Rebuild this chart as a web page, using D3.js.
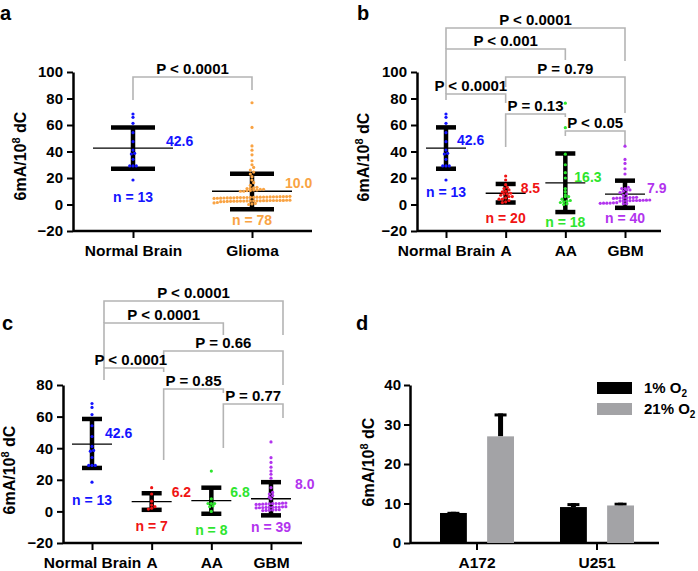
<!DOCTYPE html>
<html>
<head>
<meta charset="utf-8">
<script src="https://cdn.jsdelivr.net/npm/d3@7"></script>
<style>
  body { margin: 0; background: #fff; }
  svg text { font-family: "Liberation Sans", Arial, Helvetica, sans-serif; font-weight: bold; fill: #000; }
</style>
</head>
<body>
<svg id="fig" width="698" height="571"></svg>
<script>
// ---------------- data ----------------
var groupsA = ["Normal Brain", "Glioma"];
var groupsBC = ["Normal Brain", "A", "AA", "GBM"];

var normalBrain = [68.3, 65.8, 61.3, 54.2, 47.4, 41.1, 38.6, 38.1, 34.1, 29.1, 29.1, 29.1, 18.5];
var glioma = [76.8, 58.2, 44.2, 41, 37.5, 33, 30, 28, 26, 24.5, 23, 21, 18.5, 16.5, 14.5,
  13, 12.5, 12, 12, 11.5, 11.5, 11, 11, 10.5, 10.5, 10, 10,
  6.2, 6, 6, 5.9, 5.8, 5.8, 5.7, 5.6, 5.6, 5.5, 5.5, 5.4, 5.4, 5.3, 5.3, 5.2, 5.2, 5.1, 5, 5, 4.9, 4.8, 4.7, 4.6,
  3.3, 3.2, 3.1, 3.1, 3, 3, 3, 2.9, 2.9, 2.8, 2.8, 2.8, 2.7, 2.7, 2.6, 2.6, 2.5, 2.5, 2.4, 2.3, 2.2, 2.1,
  1.5, 1.2, 0.8, 0.4, 0];

var bAstro = [21.5, 18.5, 15, 13, 12, 11, 10, 9.5, 8.5, 8, 8, 7, 6, 6, 5, 4, 4, 3, 2, 1.5];
var bAnaplastic = [76.5, 58, 38, 30, 24, 20, 12, 9.7, 7.2, 6, 6, 4, 3, 2.5, 2, 1.5, 0.5, 0];
var bGbm = [44, 34, 31, 27, 23, 13, 12, 12, 11, 11, 10, 9, 8, 7,
  5.4, 5.3, 5.2, 5, 5, 4.9, 4.8, 4.6,
  3.4, 3.3, 3.2, 3.1, 3, 3, 2.9, 2.8, 2.7, 2.6,
  1.4, 1.3, 1.1, 1, 1, 0.9, 0.7, 0.6];

var cAstro = [15, 11, 6.5, 4, 3, 2, 1.5];
var cAnaplastic = [25.5, 8, 5, 5, 5, 3.5, 3, 0];
var cGbm = [44, 34, 31, 28, 25.5, 23.5, 21, 15, 12, 11, 10, 9, 8,
  5.3, 5.2, 5, 5, 4.9, 4.8, 4.7, 4.6, 4.5, 4.4,
  3, 2.9, 2.8, 2.7, 2.6, 2.6, 2.5, 2.4, 2.3, 2.2,
  1.1, 1, 0.9, 0.8, 0.6, 0.5];

var meansA = [42.6, 10.0], loA = [27, -3.5], hiA = [58.2, 23.3], nA = [13, 78];
var meansB = [42.6, 8.5, 16.3, 7.9], loB = [27, 1.5, -5.7, -2.5], hiB = [58.2, 15.5, 38.5, 18], nB = [13, 20, 18, 40];
var meansC = [42.6, 6.2, 6.8, 8.0], loC = [27.5, 1, -1.5, -2.5], hiC = [58.5, 11.5, 15, 18.5], nC = [13, 7, 8, 39];

var compsA = [[0, 1, "P < 0.0001"]];
var compsB = [[0, 3, "P < 0.0001"], [0, 2, "P < 0.001"], [1, 3, "P = 0.79"], [0, 1, "P < 0.0001"], [1, 2, "P = 0.13"], [2, 3, "P < 0.05"]];
var compsC = [[0, 3, "P < 0.0001"], [0, 2, "P < 0.0001"], [1, 3, "P = 0.66"], [0, 1, "P < 0.0001"], [1, 2, "P = 0.85"], [2, 3, "P = 0.77"]];

var yTicksAB = [-20, 0, 20, 40, 60, 80, 100];
var yTicksC = [-20, 0, 20, 40, 60, 80];
var yTicksD = [0, 10, 20, 30, 40];

var cellLines = ["A172", "U251"];
var oxygen = ["1%", "21%"];
var lowO2 = [7.6, 9.1], lowO2Err = [7.9, 10.1];
var highO2 = [27, 9.5], highO2Err = [32.8, 10.2];

// ---------------- styles / layout ----------------
var colA = ["#1414ff", "#f9a343"];
var colBC = ["#1414ff", "#f01414", "#2ee52e", "#b234ee"];
var bracketGray = "#b4b4b4";
var barCols = ["#000000", "#a3a3a6"];

var svg = d3.select("#fig");

function yTitle(x, y) {
  var t = svg.append("text")
    .attr("transform", "translate(" + x + "," + y + ") rotate(-90)")
    .attr("text-anchor", "middle")
    .style("font-size", "16px");
  t.append("tspan").text("6mA/10");
  t.append("tspan").attr("dy", -6).style("font-size", "11px").text("8");
  t.append("tspan").attr("dy", 6).text(" dC");
}

function panelLetter(txt, x, y) {
  svg.append("text").attr("x", x).attr("y", y).style("font-size", "20px").text(txt);
}

function yAxis(y, x0, ticks, pad) {
  var g = svg.append("g").attr("transform", "translate(" + x0 + ",0)")
    .call(d3.axisLeft(y).tickValues(ticks).tickSize(6).tickSizeOuter(0).tickPadding(pad));
  g.select(".domain").attr("stroke-width", 2.5);
  g.selectAll(".tick line").attr("stroke-width", 2);
  g.selectAll(".tick text").style("font-size", "15px");
}

function xAxis(x, y0, from, to, offset) {
  var g = svg.append("g").attr("transform", "translate(" + (offset || 0) + "," + y0 + ")")
    .call(d3.axisBottom(x).tickSize(7).tickPadding(7));
  g.select(".domain").remove();
  g.selectAll(".tick line").attr("stroke-width", 2);
  g.selectAll(".tick text").style("font-size", "15.5px");
  svg.append("line").attr("x1", from).attr("x2", to).attr("y1", y0).attr("y2", y0)
    .attr("stroke", "#000").attr("stroke-width", 2.5);
}

// GraphPad-like scatter: points sharing a pixel row spread sideways
function swarm(vals, y, cx, rowH, sp) {
  var pts = vals.map(function (v) { return { v: v, py: y(v) }; });
  var rows = d3.group(pts, function (d) { return Math.round(d.py / rowH); });
  rows.forEach(function (r) {
    r.sort(function (a, b) { return a.v - b.v; });
    r.forEach(function (d, i) { d.px = cx + (i - (r.length - 1) / 2) * sp; });
  });
  return pts;
}

function scatterPanel(p) {
  var g = svg.append("g");
  p.cats.forEach(function (c, i) {
    var cx = p.x(c);
    // error bar (mean +/- SD)
    g.append("line").attr("x1", cx).attr("x2", cx).attr("y1", p.y(p.lo[i])).attr("y2", p.y(p.hi[i]))
      .attr("stroke", "#000").attr("stroke-width", 4.5);
    [p.lo[i], p.hi[i]].forEach(function (v) {
      g.append("line").attr("x1", cx - p.capHalf).attr("x2", cx + p.capHalf)
        .attr("y1", p.y(v)).attr("y2", p.y(v)).attr("stroke", "#000").attr("stroke-width", 4.5);
    });
    g.append("line").attr("x1", cx - p.meanHalf).attr("x2", cx + p.meanHalf)
      .attr("y1", p.y(p.means[i])).attr("y2", p.y(p.means[i])).attr("stroke", "#000").attr("stroke-width", 1.3);
    g.selectAll(null).data(swarm(p.series[i], p.y, cx, 3.6, 3.3)).enter().append("circle")
      .attr("cx", function (d) { return d.px; })
      .attr("cy", function (d) { return d.py; })
      .attr("r", 1.6)
      .attr("fill", p.colors[i]);
    g.append("text").attr("x", cx + p.meanLab[i][0]).attr("y", p.y(p.means[i]) + p.meanLab[i][1])
      .style("font-size", "14px").style("fill", p.colors[i]).text(p.means[i].toFixed(1));
    g.append("text").attr("x", cx).attr("y", p.nLabY[i]).attr("text-anchor", "middle")
      .style("font-size", "14px").style("fill", p.colors[i]).text("n = " + p.n[i]);
  });
}

function brackets(comps, x, cats, lay, shift) {
  comps.forEach(function (c, i) {
    var x1 = x(cats[c[0]]) + shift, x2 = x(cats[c[1]]) + shift, L = lay[i];
    svg.append("path")
      .attr("d", "M" + x1 + "," + L[1] + "V" + L[0] + "H" + x2 + "V" + L[2])
      .attr("fill", "none").attr("stroke", bracketGray).attr("stroke-width", 1.6);
    svg.append("text").attr("x", (x1 + x2) / 2 + L[3]).attr("y", L[0] - 3)
      .attr("text-anchor", "middle").style("font-size", "15px").text(c[2]);
  });
}

// ---------------- panel a ----------------
var xA = d3.scalePoint().domain(groupsA).range([133, 252]);
var yA = d3.scaleLinear().domain([-20, 100]).range([231, 72]);
panelLetter("a", 0, 20);
yAxis(yA, 73, yTicksAB, 4);
xAxis(xA, 231, 73, 312);
yTitle(26, 156);
brackets(compsA, xA, groupsA, [[77, 100, 90, 0]], 0);
scatterPanel({
  cats: groupsA, series: [normalBrain, glioma], means: meansA, lo: loA, hi: hiA, n: nA,
  colors: colA, x: xA, y: yA, capHalf: 22, meanHalf: 40,
  meanLab: [[33, -2], [33, -3]], nLabY: [202, 225]
});

// ---------------- panel b ----------------
var xB = d3.scalePoint().domain(groupsBC).range([446, 625]);
var yB = d3.scaleLinear().domain([-20, 100]).range([231, 72]);
panelLetter("b", 357, 20);
yAxis(yB, 417, yTicksAB, 4);
xAxis(xB, 231, 417, 661);
yTitle(369, 157);
brackets(compsB, xB, groupsBC, [
  [28, 49, 61, 0], [49, 94, 60, 0], [77, 87, 113, 0],
  [94, 100, 103, -5], [114, 147, 117, 0], [131, 136, 147, 0]
], 0);
scatterPanel({
  cats: groupsBC, series: [normalBrain, bAstro, bAnaplastic, bGbm], means: meansB, lo: loB, hi: hiB, n: nB,
  colors: colBC, x: xB, y: yB, capHalf: 10, meanHalf: 20,
  meanLab: [[11, -3], [15, 0], [9, -1], [22, -1]], nLabY: [197, 223, 227, 223]
});

// ---------------- panel c ----------------
var xC = d3.scalePoint().domain(groupsBC).range([92, 271]);
var yC = d3.scaleLinear().domain([-20, 80]).range([543, 385]);
panelLetter("c", 2, 330);
yAxis(yC, 63, yTicksC, 4);
xAxis(xC, 543, 63, 302);
yTitle(15, 470);
brackets(compsC, xC, groupsBC, [
  [301, 323, 335, 0], [323, 368, 335, 0], [351, 365, 385, 0],
  [368, 380, 372, -3], [389, 460, 393, 0], [404, 448, 418, 0]
], 12);
scatterPanel({
  cats: groupsBC, series: [normalBrain, cAstro, cAnaplastic, cGbm], means: meansC, lo: loC, hi: hiC, n: nC,
  colors: colBC, x: xC, y: yC, capHalf: 10, meanHalf: 20,
  meanLab: [[13, -6], [20, -5], [19, -4], [24, -10]], nLabY: [505, 531, 535, 532]
});

// ---------------- panel d ----------------
var xD = d3.scaleBand().domain(cellLines).range([417, 657]);
var xSub = d3.scaleBand().domain(oxygen).range([-37, 37]).paddingInner(0.43);
var yD = d3.scaleLinear().domain([0, 40]).range([543, 385]);
panelLetter("d", 356, 330);
yAxis(yD, 410, yTicksD, 3);
xAxis(xD, 543, 410, 659, 0);
yTitle(374, 462);

var barSeries = [
  { key: oxygen[0], vals: lowO2, errs: lowO2Err, color: barCols[0] },
  { key: oxygen[1], vals: highO2, errs: highO2Err, color: barCols[1] }
];
barSeries.forEach(function (s) {
  cellLines.forEach(function (c, i) {
    var cx = xD(c) + xD.bandwidth() / 2 + xSub(s.key) + xSub.bandwidth() / 2;
    svg.append("line").attr("x1", cx).attr("x2", cx).attr("y1", yD(s.vals[i])).attr("y2", yD(s.errs[i]))
      .attr("stroke", "#000").attr("stroke-width", 5);
    svg.append("line").attr("x1", cx - 6).attr("x2", cx + 6).attr("y1", yD(s.errs[i]) + 1.5).attr("y2", yD(s.errs[i]) + 1.5)
      .attr("stroke", "#000").attr("stroke-width", 3);
    svg.append("rect")
      .attr("x", xD(c) + xD.bandwidth() / 2 + xSub(s.key))
      .attr("y", yD(s.vals[i]))
      .attr("width", xSub.bandwidth())
      .attr("height", yD(0) - yD(s.vals[i]))
      .attr("fill", s.color);
  });
});

// legend
barSeries.forEach(function (s, i) {
  var ly = 382 + i * 21;
  svg.append("rect").attr("x", 597).attr("y", ly).attr("width", 35).attr("height", 12).attr("fill", s.color);
  var t = svg.append("text").attr("x", 644).attr("y", ly + 11).style("font-size", "15px");
  t.append("tspan").text(s.key + " O");
  t.append("tspan").attr("dy", 4).style("font-size", "10px").text("2");
});
</script>
</body>
</html>
